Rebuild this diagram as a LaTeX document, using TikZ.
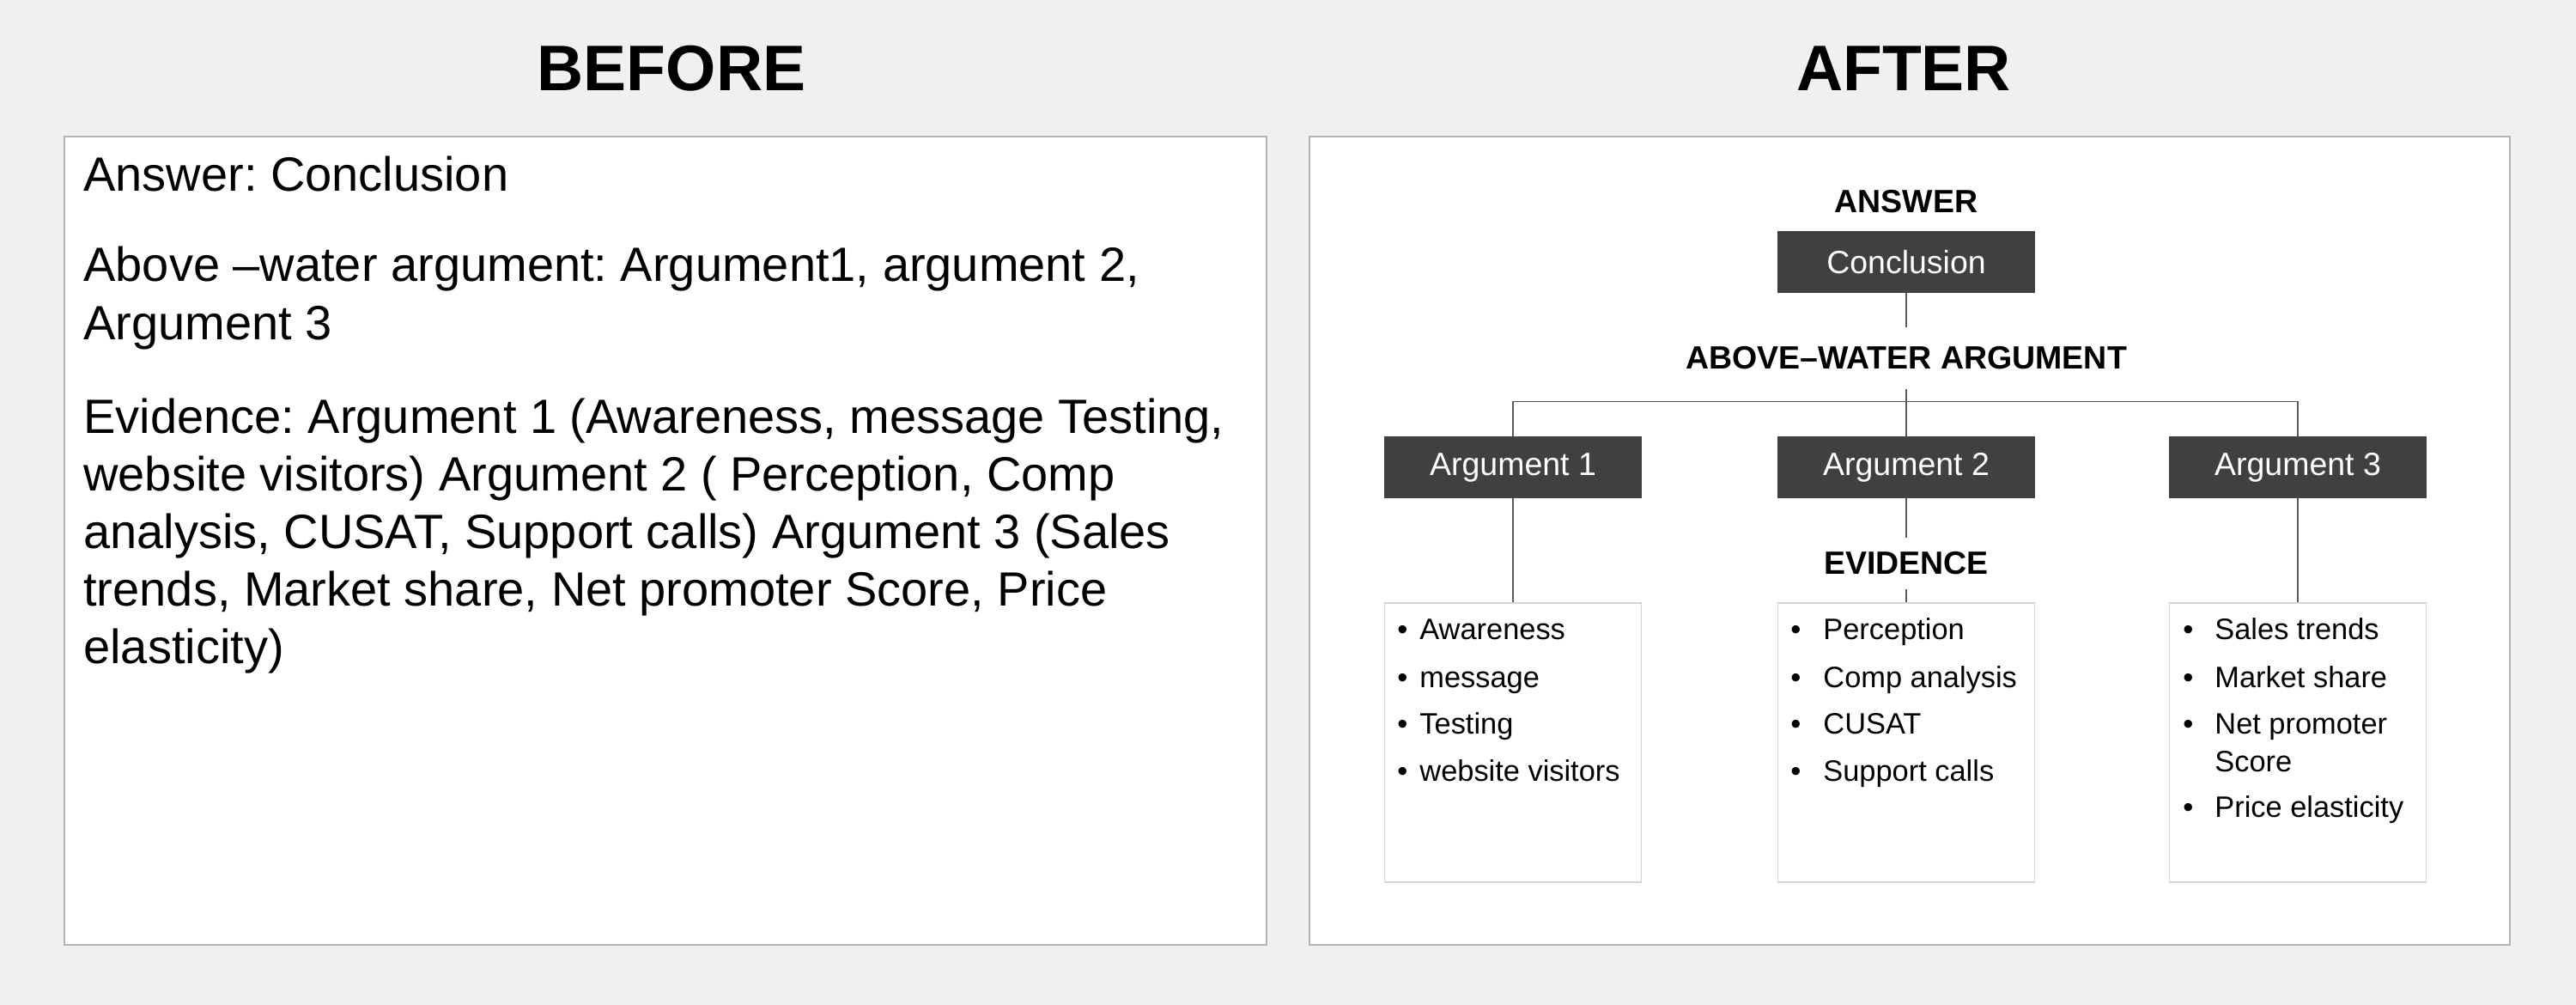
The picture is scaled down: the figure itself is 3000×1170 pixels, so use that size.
\documentclass[tikz,border=0pt]{standalone}
\usepackage{fontspec}
\setmainfont{Liberation Sans}
\frenchspacing
\definecolor{bgcol}{HTML}{F0F0F0}
\definecolor{framecol}{HTML}{B4B4B4}
\definecolor{darkfill}{HTML}{404040}
\definecolor{linecol}{HTML}{595959}
\definecolor{evframe}{HTML}{D4D4D4}
\begin{document}
\begin{tikzpicture}[x=0.5pt,y=-0.5pt,
  panel/.style={draw=framecol,fill=white,line width=1.2pt},
  title/.style={font=\fontsize{37.5}{40}\selectfont\bfseries,inner sep=0pt,anchor=base},
  bodyline/.style={font=\fontsize{28}{33}\selectfont\frenchspacing,inner sep=0pt,anchor=base west},
  darkbox/.style={fill=darkfill,text=white,minimum width=150pt,minimum height=36pt,inner sep=0pt,
    font=\fontsize{18.75}{21}\selectfont},
  label/.style={font=\fontsize{18.75}{21}\selectfont\bfseries,inner xsep=0pt,anchor=base},
  evbox/.style={draw=evframe,fill=white,line width=0.7pt,minimum width=149.5pt,minimum height=162.5pt,inner sep=0pt},
  bul/.style={font=\fontsize{17.2}{20}\selectfont,inner sep=0pt,anchor=base west},
  conn/.style={draw=linecol,line width=0.8pt}]
\useasboundingbox (0,0) rectangle (3000,1170);
\fill[bgcol] (0,0) rectangle (3000,1170);

% titles
\node[title] (tbefore) at (782,106) {BEFORE};
\node[title] (tafter) at (2217,106) {AFTER};

% panels
\draw[panel] (75,159) rectangle (1475,1100);
\draw[panel] (1525,159) rectangle (2923,1100);

% BEFORE text
\node[bodyline] (l1) at (97,223) {Answer: Conclusion};
\node[bodyline] (l2) at (97,328) {Above –water argument: Argument1, argument 2,};
\node[bodyline] (l3) at (97,396) {Argument 3};
\node[bodyline] (l4) at (97,505) {Evidence: Argument 1 (Awareness, message Testing,};
\node[bodyline] (l5) at (97,572) {website visitors) Argument 2 ( Perception, Comp};
\node[bodyline] (l6) at (97,639) {analysis, CUSAT, Support calls) Argument 3 (Sales};
\node[bodyline] (l7) at (97,706) {trends, Market share, Net promoter Score, Price};
\node[bodyline] (l8) at (97,773) {elasticity)};

% AFTER diagram
\node[label,inner ysep=0pt] (ans) at (2220,248) {ANSWER};
\node[darkbox] (concl) at (2220,305) {Conclusion};
\node[label,inner ysep=11.25pt] (aw) at (2220,430) {ABOVE–WATER ARGUMENT};
\node[darkbox] (arg1) at (1762,544) {Argument 1};
\node[darkbox] (arg2) at (2220,544) {Argument 2};
\node[darkbox] (arg3) at (2676,544) {Argument 3};
\node[label,inner ysep=8pt] (evl) at (2220,669) {EVIDENCE};
\node[evbox] (ev1) at (1762,864.5) {};
\node[evbox] (ev2) at (2220,864.5) {};
\node[evbox] (ev3) at (2676,864.5) {};

\draw[conn] (concl.south) -- (aw.north);
\draw[conn] (aw.south) -- (arg2.north);
\draw[conn] (arg1.north) -- ++(0,-40) -| (arg3.north);
\draw[conn] (arg1.south) -- (ev1.north);
\draw[conn] (arg2.south) -- (evl.north);
\draw[conn] (evl.south) -- (ev2.north);
\draw[conn] (arg3.south) -- (ev3.north);

% bullets box 1
\node[bul] (b11d) at (1627,745) {•};
\node[bul] (b11) at (1653,745) {Awareness};
\node[bul] (b12d) at (1627,800) {•};
\node[bul] (b12) at (1653,800) {message};
\node[bul] (b13d) at (1627,855) {•};
\node[bul] (b13) at (1653,855) {Testing};
\node[bul] (b14d) at (1627,909) {•};
\node[bul] (b14) at (1653,909) {website visitors};
% bullets box 2
\node[bul] (b21d) at (2085,745) {•};
\node[bul] (b21) at (2123,745) {Perception};
\node[bul] (b22d) at (2085,800) {•};
\node[bul] (b22) at (2123,800) {Comp analysis};
\node[bul] (b23d) at (2085,855) {•};
\node[bul] (b23) at (2123,855) {CUSAT};
\node[bul] (b24d) at (2085,909) {•};
\node[bul] (b24) at (2123,909) {Support calls};
% bullets box 3
\node[bul] (b31d) at (2542,745) {•};
\node[bul] (b31) at (2579,745) {Sales trends};
\node[bul] (b32d) at (2542,800) {•};
\node[bul] (b32) at (2579,800) {Market share};
\node[bul] (b33d) at (2542,855) {•};
\node[bul] (b33) at (2579,855) {Net promoter};
\node[bul] (b33b) at (2579,898) {Score};
\node[bul] (b34d) at (2542,951) {•};
\node[bul] (b34) at (2579,951) {Price elasticity};
\end{tikzpicture}
\end{document}
